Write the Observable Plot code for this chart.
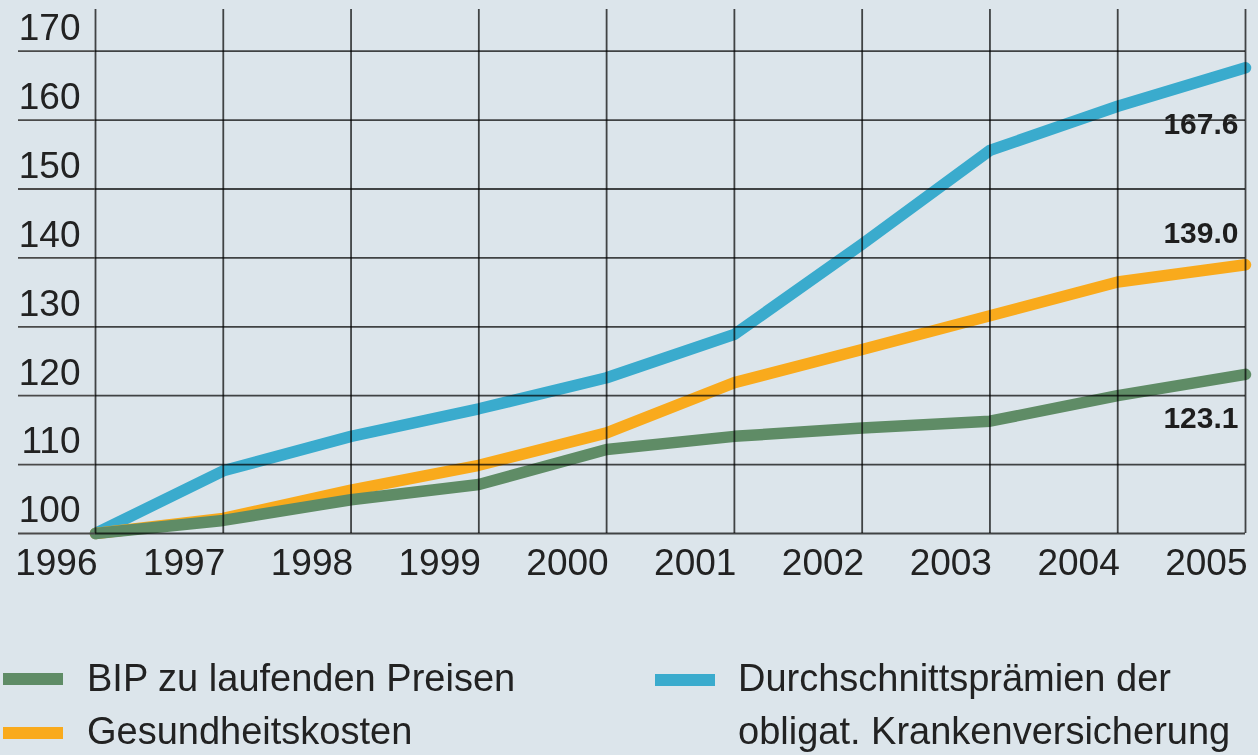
<!DOCTYPE html>
<html>
<head>
<meta charset="utf-8">
<script src="https://cdn.jsdelivr.net/npm/d3@7"></script>
<script src="https://cdn.jsdelivr.net/npm/@observablehq/plot@0.6"></script>
<style>
  html, body { margin: 0; padding: 0; background: #dce5eb; }
  body { width: 1258px; height: 755px; overflow: hidden; position: relative; font-family: "Liberation Sans", Arial, Helvetica, sans-serif; color: #222; }
  #chart { position: absolute; left: 0; top: 0; }
  .leg { position: absolute; font-size: 38px; line-height: 53px; white-space: nowrap; color: #222; }
  .sw { position: absolute; height: 12px; width: 60px; }
</style>
</head>
<body>
<div id="chart"></div>
<div id="legend"></div>
<script>
// ---- data ----
const years = [1996, 1997, 1998, 1999, 2000, 2001, 2002, 2003, 2004, 2005];
const bip = [100, 101.9, 104.9, 107.1, 112.2, 114.1, 115.3, 116.3, 120.0, 123.1];
const gesundheitskosten = [100, 102.2, 106.3, 109.9, 114.6, 121.9, 126.7, 131.6, 136.5, 139.0];
const praemien = [100, 109.1, 114.1, 118.1, 122.6, 128.9, 142.0, 155.6, 162.0, 167.6];
const yTicks = [100, 110, 120, 130, 140, 150, 160, 170];
const seriesNames = ["BIP zu laufenden Preisen", "Gesundheitskosten", "Durchschnittsprämien der obligat. Krankenversicherung"];
const seriesKeys = ["bip", "ges", "kv"];

// ---- styling ----
const colors = { bip: "#5f8c66", ges: "#f9aa1c", kv: "#3aabcd" };
const labelDy = { bip: 44, ges: -31, kv: 57 };
const font = "'Liberation Sans', Arial, Helvetica, sans-serif";

const seriesValues = { bip: bip, ges: gesundheitskosten, kv: praemien };
const rows = [];
for (const k of seriesKeys) {
  years.forEach((y, i) => rows.push({ key: k, year: y, value: seriesValues[k][i] }));
}
const drawOrder = ["kv", "ges", "bip"];
const lastRows = seriesKeys.map(k => ({ key: k, year: years[years.length - 1], value: seriesValues[k][years.length - 1] }));

const gridColor = "#4a4a4a";

const chart = Plot.plot({
  width: 1258,
  height: 600,
  marginLeft: 95,
  marginRight: 13,
  marginTop: 9,
  marginBottom: 67,
  style: { background: "transparent", fontFamily: font, color: "#222" },
  x: { domain: [1996, 2005] },
  y: { domain: [100, 176.05] },
  marks: [
    ...drawOrder.map(k => Plot.line(rows.filter(r => r.key === k), {
      x: "year", y: "value", stroke: colors[k], strokeWidth: 11.5,
      strokeLinecap: "round", strokeLinejoin: "round"
    })),
    Plot.gridX(years, { stroke: gridColor, strokeOpacity: 1, strokeWidth: 1.8, mixBlendMode: "multiply" }),
    Plot.gridY(yTicks, { stroke: gridColor, strokeOpacity: 1, strokeWidth: 1.8, mixBlendMode: "multiply" }),
    Plot.axisY(yTicks, { anchor: "left", tickSize: 77, stroke: gridColor, strokeWidth: 1.8, text: null, label: null }),
    Plot.axisY(yTicks, { anchor: "left", tickSize: 0, tickPadding: 15, dy: -23, fontSize: 37, fill: "#222", label: null }),
    Plot.axisX(years, { anchor: "bottom", tickSize: 0, tickPadding: 15, textAnchor: "end", dx: 2, fontSize: 37, fill: "#222", tickFormat: d => String(d), label: null }),
    ...lastRows.map(r => Plot.text([r], {
      x: "year", y: "value", text: d => d.value.toFixed(1),
      textAnchor: "end", dx: -7, dy: labelDy[r.key], fontSize: 30, fontWeight: "bold", fill: "#1e1e1e"
    }))
  ]
});
document.getElementById("chart").appendChild(chart);

// ---- legend (HTML, below the SVG) ----
const legend = document.getElementById("legend");
const legendItems = [
  { key: "bip", left: 3, textLeft: 87, top: 652, swTop: 673, lines: [seriesNames[0]] },
  { key: "ges", left: 3, textLeft: 87, top: 705, swTop: 727, lines: [seriesNames[1]] },
  { key: "kv", left: 655, textLeft: 738, top: 652, swTop: 674, lines: ["Durchschnittsprämien der", "obligat. Krankenversicherung"] }
];
for (const it of legendItems) {
  const sw = document.createElement("div");
  sw.className = "sw";
  sw.style.left = it.left + "px";
  sw.style.top = it.swTop + "px";
  sw.style.background = colors[it.key];
  legend.appendChild(sw);
  const t = document.createElement("div");
  t.className = "leg";
  t.style.left = it.textLeft + "px";
  t.style.top = it.top + "px";
  t.innerHTML = it.lines.join("<br>");
  legend.appendChild(t);
}
</script>
</body>
</html>
